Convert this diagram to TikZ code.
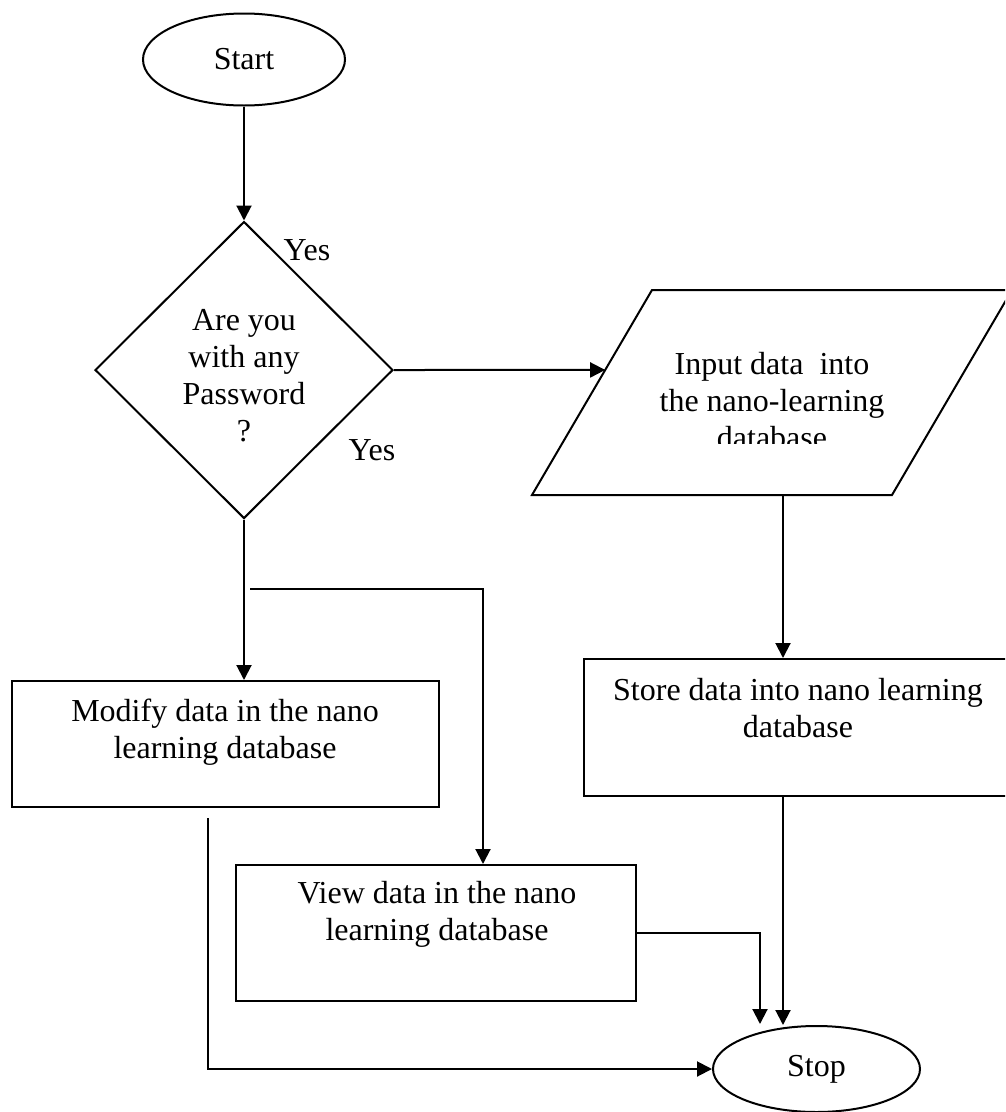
\documentclass[tikz,border=0pt]{standalone}
\usepackage{fontspec}
\setmainfont{Liberation Serif}
\usetikzlibrary{shapes.geometric,arrows.meta,calc}

\begin{document}
\begin{tikzpicture}[x=1pt,y=-1pt,line width=2pt,
  every node/.style={font=\fontsize{32}{37}\selectfont},
  flow/.style={-{Triangle[length=15pt,width=15pt]}},
  box/.style={draw,rectangle,inner sep=0pt},
  oval/.style={draw,ellipse,inner sep=0pt},
  txt/.style={align=center,inner sep=0pt}]

\useasboundingbox (0,0) rectangle (1005,1112);
\clip (0,0) rectangle (1005,1112);

% terminals
\node[oval,minimum width=202pt,minimum height=92pt] (start) at (244,59.5) {Start};
\node[oval,minimum width=207pt,minimum height=86pt] (stop) at (816.5,1069) {Stop};

% decision
\node[draw,diamond,minimum width=298pt,minimum height=297pt,inner sep=0pt] (dec) at (244,370) {};
\node[txt] (q) at (244,376) {Are you\\with any\\Password\\?};
\node (yes1) at (307,250) {Yes};
\node (yes2) at (372,450) {Yes};

% input parallelogram
\coordinate (pbl) at (532,495);
\coordinate (pbr) at (892,495);
\coordinate (ptr) at (1012,290);
\coordinate (ptl) at (652,290);
\draw (pbl) -- (pbr) -- (ptr) -- (ptl) -- cycle;
\begin{scope}
  \clip (540,290) rectangle (1000,443);
  \node[txt] (inp) at (772,401) {Input data\ \ into\\the nano-learning\\database};
\end{scope}
\coordinate (pin) at ($(pbl)!0.61!(ptl)$);
\coordinate (pout) at (783,495);

% process boxes
\node[box,minimum width=428pt,minimum height=137pt] (store) at (798,727.5) {};
\node[txt] (storetxt) at (798,708.5) {Store data into nano learning\\database};

\node[box,minimum width=427pt,minimum height=126pt] (mod) at (225.5,744) {};
\node[txt] (modtxt) at (225,732.5) {Modify data in the nano\\learning database};

\node[box,minimum width=400pt,minimum height=136pt] (view) at (436,933) {};
\node[txt] (viewtxt) at (437,914) {View data in the nano\\learning database};

% connectors
\coordinate (br) at (250,589);
\coordinate (bc) at (483,589);
\coordinate (vin) at (760,1024);
\coordinate (ml) at (208,818);

\draw[flow] (start.south) -- (dec.north);
\draw[flow] (dec.east) -- (pin);
\draw[flow] (pout) -- (pout |- store.north);
\draw[flow] (pout |- store.south) -- (pout |- stop.north);
\draw[flow] (dec.south) -- (dec.south |- mod.north);
\draw[flow] (br) -- (bc) -- (bc |- view.north);
\draw[flow] (view.east) -| (vin);
\draw[flow] (ml) |- (stop.west);
\end{tikzpicture}
\end{document}
